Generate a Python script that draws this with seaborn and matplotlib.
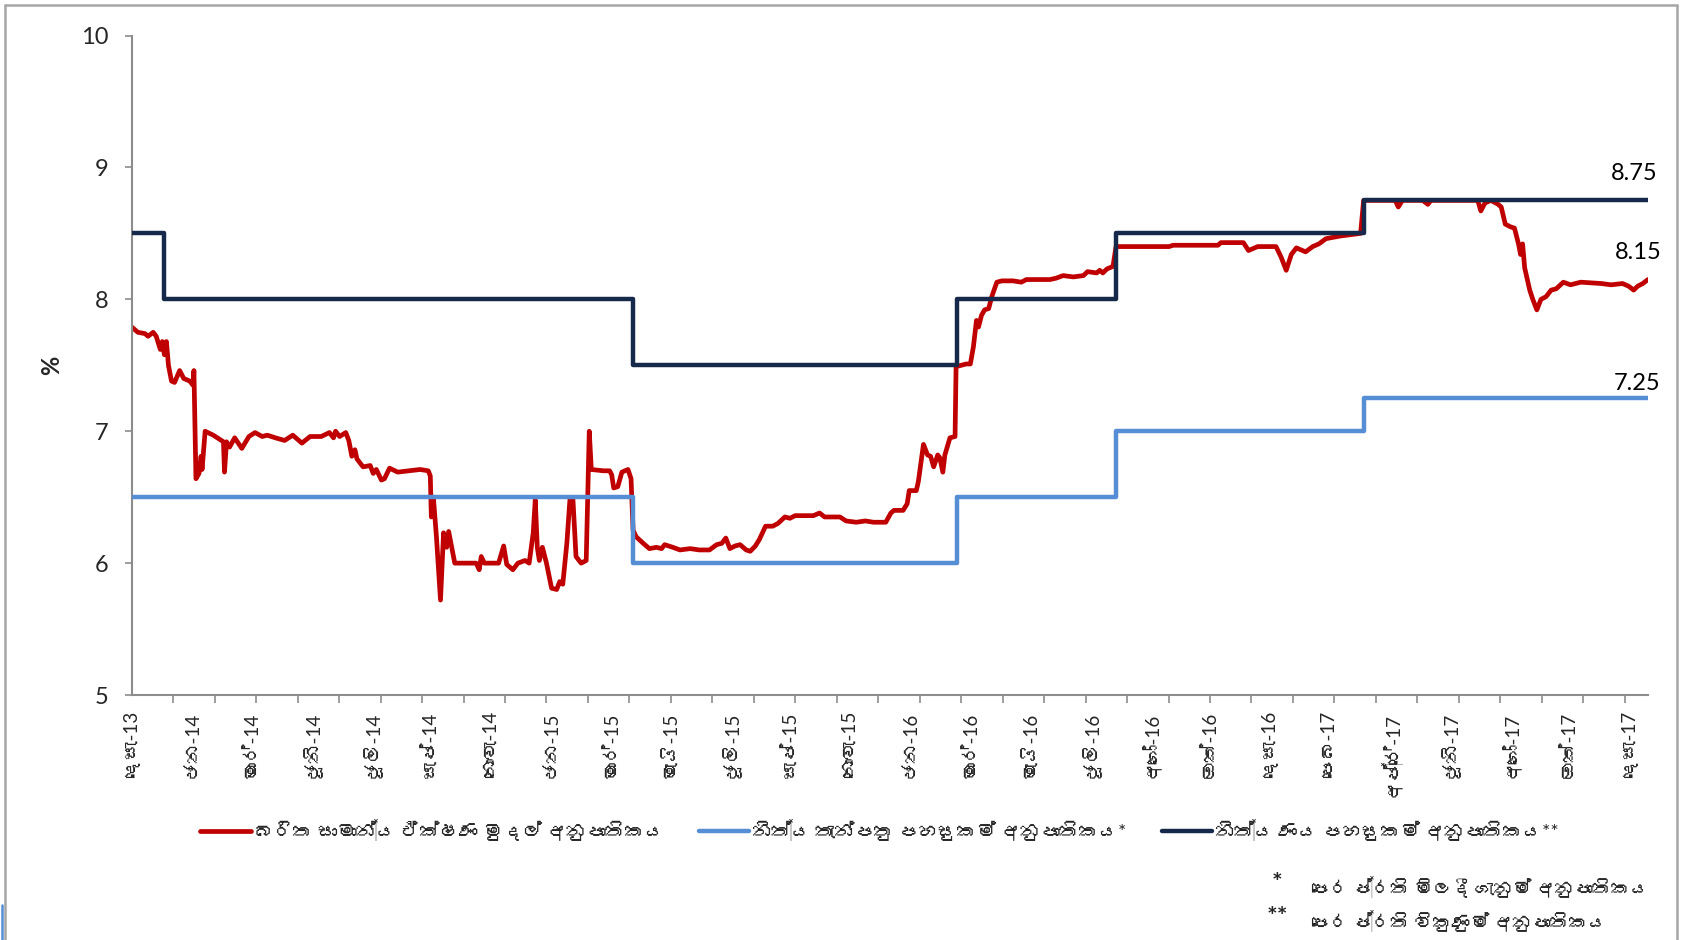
import pandas as pd
import numpy as np
import matplotlib
matplotlib.use('Agg')
import matplotlib.pyplot as plt
import seaborn as sns
from matplotlib import font_manager
from matplotlib.ft2font import FT2Font
from matplotlib.lines import Line2D

START = pd.Timestamp('2013-12-01')

# weighted average call money rate (days since 1 Dec 2013, %)
awcmr_day = [0, 6, 13, 16, 21, 24, 28, 30, 32, 34, 36, 39, 42, 47, 51, 57, 60, 61, 63, 66,
             68, 69, 72, 80, 88, 90, 91, 93, 96, 101, 108, 115, 121, 128, 133, 141, 150, 158, 167, 175,
             186, 194, 198, 200, 204, 210, 213, 216, 219, 221, 224, 227, 234, 237, 240, 245, 248, 253, 261, 283,
             291, 293, 294, 296, 299, 303, 306, 309, 311, 314, 317, 338, 341, 343, 346, 360, 365, 368, 374, 379,
             386, 390, 394, 396, 398, 400, 403, 407, 412, 417, 420, 423, 427, 430, 433, 436, 441, 446, 449, 451,
             463, 469, 471, 473, 477, 481, 487, 490, 492, 495, 502, 508, 515, 520, 523, 531, 538, 548, 557, 567,
             574, 579, 583, 587, 592, 597, 603, 607, 612, 616, 622, 629, 634, 641, 646, 651, 669, 675, 680, 695,
             701, 711, 720, 728, 740, 745, 748, 757, 761, 763, 770, 772, 777, 781, 784, 787, 791, 793, 796, 798,
             803, 808, 809, 819, 823, 826, 829, 831, 834, 837, 841, 844, 849, 854, 865, 873, 878, 901, 907, 914,
             924, 934, 938, 947, 950, 953, 957, 960, 963, 966, 970, 1018, 1022, 1066, 1069, 1091, 1096, 1105, 1123, 1128,
             1133, 1138, 1143, 1152, 1159, 1165, 1172, 1179, 1186, 1206, 1209, 1240, 1243, 1247, 1267, 1272, 1275, 1321, 1324, 1328,
             1334, 1341, 1344, 1348, 1353, 1357, 1361, 1363, 1365, 1367, 1372, 1375, 1379, 1383, 1388, 1393, 1398, 1405, 1412, 1422,
             1442, 1452, 1463, 1469, 1474, 1478, 1483, 1488]
awcmr_val = [7.79, 7.75, 7.74, 7.72, 7.75, 7.72, 7.62, 7.68, 7.58, 7.68, 7.50, 7.38, 7.37, 7.46, 7.40, 7.38, 7.35, 7.46, 6.64, 6.68,
             6.81, 6.71, 7.00, 6.97, 6.93, 6.92, 6.69, 6.92, 6.88, 6.95, 6.87, 6.96, 6.99, 6.96, 6.97, 6.95, 6.93, 6.97, 6.91, 6.96,
             6.96, 6.99, 6.95, 7.00, 6.96, 6.99, 6.93, 6.81, 6.86, 6.79, 6.76, 6.73, 6.74, 6.68, 6.71, 6.63, 6.64, 6.72, 6.69, 6.71,
             6.70, 6.66, 6.35, 6.50, 6.20, 5.72, 6.23, 6.12, 6.24, 6.12, 6.00, 6.00, 5.95, 6.05, 6.00, 6.00, 6.13, 5.99, 5.95, 6.00,
             6.02, 6.00, 6.23, 6.48, 6.12, 6.02, 6.12, 6.00, 5.81, 5.80, 5.86, 5.84, 6.15, 6.48, 6.48, 6.05, 6.00, 6.02, 7.00, 6.71,
             6.70, 6.70, 6.67, 6.57, 6.58, 6.69, 6.71, 6.64, 6.25, 6.20, 6.15, 6.11, 6.12, 6.11, 6.14, 6.12, 6.10, 6.11, 6.10, 6.10,
             6.14, 6.15, 6.19, 6.11, 6.13, 6.14, 6.10, 6.09, 6.13, 6.18, 6.28, 6.28, 6.30, 6.35, 6.34, 6.36, 6.36, 6.38, 6.35, 6.35,
             6.32, 6.31, 6.32, 6.31, 6.31, 6.38, 6.40, 6.40, 6.45, 6.55, 6.55, 6.62, 6.90, 6.82, 6.81, 6.73, 6.82, 6.80, 6.69, 6.82,
             6.95, 6.96, 7.49, 7.51, 7.51, 7.64, 7.84, 7.79, 7.88, 7.92, 7.93, 8.02, 8.13, 8.14, 8.14, 8.13, 8.15, 8.15, 8.16, 8.18,
             8.17, 8.18, 8.21, 8.20, 8.22, 8.20, 8.23, 8.24, 8.25, 8.40, 8.40, 8.40, 8.41, 8.41, 8.43, 8.43, 8.37, 8.40, 8.40, 8.32,
             8.22, 8.34, 8.39, 8.36, 8.40, 8.42, 8.46, 8.47, 8.48, 8.50, 8.75, 8.75, 8.70, 8.75, 8.75, 8.72, 8.75, 8.75, 8.67, 8.73,
             8.75, 8.72, 8.70, 8.57, 8.55, 8.54, 8.42, 8.34, 8.42, 8.24, 8.07, 8.00, 7.92, 8.00, 8.02, 8.07, 8.08, 8.13, 8.11, 8.13,
             8.12, 8.11, 8.12, 8.10, 8.07, 8.10, 8.12, 8.15]

# standing deposit facility rate
sdfr_day = [0, 492, 810, 966, 1209, 1488]
sdfr_val = [6.5, 6.0, 6.5, 7.0, 7.25, 7.25]

# standing lending facility rate
slfr_day = [0, 32, 492, 810, 966, 1209, 1488]
slfr_val = [8.5, 8.0, 7.5, 8.0, 8.5, 8.75, 8.75]

month_labels = ['දෙසැ-13', 'ජන-14', 'මාර්-14', 'ජූනි-14', 'ජූලි-14', 'සැප්-14', 'නොවැ-14',
                'ජන-15', 'මාර්-15', 'මැයි-15', 'ජූලි-15', 'සැප්-15', 'නොවැ-15',
                'ජන-16', 'මාර්-16', 'මැයි-16', 'ජූලි-16', 'අගෝ-16', 'ඔක්-16', 'දෙසැ-16',
                'පෙබ-17', 'අප්‍රේ-17', 'ජූනි-17', 'අගෝ-17', 'ඔක්-17', 'දෙසැ-17']

series_names = ['බරිත සාමාන්‍ය ඒක්ෂණ මුදල් අනුපාතිකය',
                'නිත්‍ය තැන්පතු පහසුකම් අනුපාතිකය*',
                'නිත්‍ය ණය පහසුකම් අනුපාතිකය**']
note_marks = ['*', '**']
note_texts = ['පෙර ප්‍රති මිලදී ගැනුම් අනුපාතිකය', 'පෙර ප්‍රති විකුණුම් අනුපාතිකය']

RED, BLUE, NAVY = '#C00000', '#558ED5', '#17294A'
GREY = '#8C8C8C'


def find_sinhala_font():
    for f in font_manager.fontManager.ttflist:
        try:
            if 0x0DB6 in FT2Font(f.fname).get_charmap():
                return f.name
        except Exception:
            pass
    return None


def to_dates(days):
    return START + pd.to_timedelta(days, unit='D')


sns.set_theme(style='white')
families = ['Lato']
sin_font = find_sinhala_font()
if sin_font:
    families.append(sin_font)
families.append('DejaVu Sans')
plt.rcParams['font.family'] = families

fig = plt.figure(figsize=(16.85, 9.40), dpi=100)
ax = fig.add_axes([0.0782, 0.2606, 0.8998, 0.7016])

awcmr = pd.DataFrame({'date': to_dates(awcmr_day), 'rate': awcmr_val})
sdfr = pd.DataFrame({'date': to_dates(sdfr_day), 'rate': sdfr_val})
slfr = pd.DataFrame({'date': to_dates(slfr_day), 'rate': slfr_val})

sns.lineplot(data=awcmr, x='date', y='rate', color=RED, lw=3.4, estimator=None,
             label=series_names[0], ax=ax, zorder=2)
sns.lineplot(data=sdfr, x='date', y='rate', color=BLUE, lw=3.2, estimator=None,
             drawstyle='steps-post', label=series_names[1], ax=ax, zorder=3)
sns.lineplot(data=slfr, x='date', y='rate', color=NAVY, lw=3.2, estimator=None,
             drawstyle='steps-post', label=series_names[2], ax=ax, zorder=3)

# axes
ax.set_ylim(5, 10)
ax.set_xlim(to_dates([0])[0], to_dates([1488])[0])
ax.set_yticks(range(5, 11))
ax.tick_params(axis='y', labelsize=17, length=5, width=1.2, color=GREY, pad=12, left=True)
label_pos = to_dates(np.linspace(0, 1470, len(month_labels)))
ax.set_xticks(label_pos)
ax.set_xticklabels(month_labels, rotation=90, fontsize=13.5)
ax.set_xticks(to_dates(np.arange(37) * 40.7), minor=True)
ax.tick_params(axis='x', which='major', length=0, pad=12)
ax.tick_params(axis='x', which='minor', length=6, width=1.2, color=GREY, bottom=True)
for s in ['top', 'right']:
    ax.spines[s].set_visible(False)
for s in ['left', 'bottom']:
    ax.spines[s].set_color(GREY)
    ax.spines[s].set_linewidth(1.5)
ax.set_xlabel('')
ax.set_ylabel('%', fontsize=17, fontweight='bold')
ax.yaxis.set_label_coords(-0.045, 0.5)

# end-of-series values
end = to_dates([1488])[0]
for val, dy, dx in [(slfr_val[-1], 27, 10), (awcmr_val[-1], 27, 14), (sdfr_val[-1], 15, 12)]:
    ax.annotate(f'{val:.2f}', xy=(end, val), xytext=(dx, dy), textcoords='offset pixels',
                ha='right', va='center', fontsize=17, color='black')

ax.legend(loc='center', bbox_to_anchor=(0.522, 0.117), bbox_transform=fig.transFigure,
          ncol=3, frameon=False, fontsize=14, handlelength=2.6, handletextpad=0.15,
          columnspacing=1.8)

# footnotes
for i, (mark, txt) in enumerate(zip(note_marks, note_texts)):
    y = 0.060 - i * 0.036
    fig.text(0.758, y, mark, ha='center', va='center', fontsize=18, fontweight='bold')
    fig.text(0.778, y - 0.004, txt, ha='left', va='center', fontsize=13.5)

# chart-area frame
for xs, ys, c in [([0.003, 0.995], [0.995, 0.995], '#A6A6A6'),
                  ([0.003, 0.003], [0.0, 0.995], '#A6A6A6'),
                  ([0.995, 0.995], [0.0, 0.995], '#A6A6A6'),
                  ([0.001, 0.001], [0.0, 0.037], BLUE)]:
    fig.add_artist(Line2D(xs, ys, color=c, lw=1.8, transform=fig.transFigure))

fig.savefig('out.png', dpi=100)
